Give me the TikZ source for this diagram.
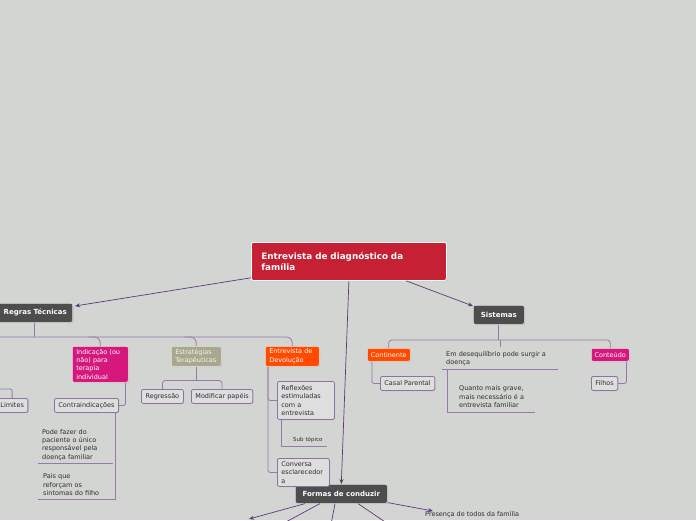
\documentclass[tikz,border=0pt]{standalone}
\usepackage{fontspec}
\setmainfont{DejaVu Sans}
\usetikzlibrary{arrows.meta, positioning, shadows}
\definecolor{bgcol}{RGB}{211,213,210}
\definecolor{rootred}{RGB}{197,32,51}
\definecolor{darkbox}{RGB}{77,77,77}
\definecolor{magentabox}{RGB}{214,24,125}
\definecolor{orangebox}{RGB}{255,74,0}
\definecolor{olivebox}{RGB}{168,168,140}
\definecolor{leaffill}{RGB}{222,222,222}
\definecolor{leafline}{RGB}{140,115,160}
\definecolor{branchcol}{RGB}{150,120,170}
\definecolor{arrowcol}{RGB}{95,55,125}
\definecolor{textcol}{RGB}{45,45,45}

\begin{document}
\begin{tikzpicture}[x=1pt, y=-1pt,
  every node/.style={font=\fontsize{6.5}{8.3}\selectfont, inner sep=0pt},
  base/.style={anchor=north west, rounded corners=2pt, drop shadow={opacity=0.25, shadow xshift=0.8pt, shadow yshift=-0.8pt}},
  main/.style={base, fill=rootred, draw=white, line width=0.8pt, text=white, align=left, inner xsep=10pt, font=\bfseries\fontsize{8.8}{11}\selectfont},
  dark/.style={base, fill=darkbox, draw=white!85!black, line width=0.6pt, text=white, font=\bfseries\fontsize{7}{8}\selectfont},
  tag/.style={base, draw=white!90!black, line width=0.5pt, text=white, align=left, inner xsep=4pt},
  leaf/.style={base, fill=leaffill, draw=leafline, line width=0.8pt, text=textcol, align=left, inner xsep=4pt},
  topic/.style={anchor=north west, align=left, text=textcol},
  arrow/.style={draw=arrowcol, line width=0.7pt, -{Stealth[length=5pt, width=4pt]}},
  branch/.style={draw=branchcol, line width=0.8pt}]
  \fill[bgcol] (0,0) rectangle (696,520);
  \useasboundingbox (0,0) rectangle (696,520);

  \node[main, text width=175pt, minimum height=38pt] (root) at (251,242) {Entrevista de diagnóstico da\\família};
  \node[dark, anchor=north east, text width=72pt, align=right, inner xsep=6pt, minimum height=19pt] (regras) at (73,303) {Regras Técnicas};
  \node[dark, minimum width=51pt, minimum height=19pt] (sist) at (473,305) {Sistemas};
  \node[dark, minimum width=92pt, minimum height=19pt] (formas) at (295,484) {Formas de conduzir};

  \node[tag, fill=magentabox, text width=48pt, minimum height=36pt] (indic) at (72,346) {Indicação (ou\\não) para\\terapia\\individual};
  \node[tag, fill=olivebox, text=white!88!olivebox, text width=42pt, minimum height=20pt] (estr) at (171,346) {Estratégias\\Terapêuticas};
  \node[tag, fill=orangebox, text width=46pt, minimum height=20pt] (devol) at (265,346) {Entrevista de\\Devolução};
  \node[tag, fill=orangebox, inner xsep=3pt, text width=37pt, align=center, minimum height=13pt] (contin) at (367,348) {Continente};
  \node[tag, fill=magentabox, inner xsep=3pt, text width=32pt, align=center, minimum height=13pt] (conteudo) at (591,348) {Conteúdo};

  \node[leaf, minimum width=30pt, minimum height=14pt] (limites) at (-4,398) {Limites};
  \node[leaf, minimum width=63pt, minimum height=14pt] (contra) at (54,398) {Contraindicações};
  \node[leaf, minimum width=42pt, minimum height=14pt] (regr) at (141,389) {Regressão};
  \node[leaf, minimum width=61pt, minimum height=14pt] (modif) at (191,389) {Modificar papéis};
  \node[leaf, text width=49pt, minimum height=38pt] (reflex) at (277,381) {Reflexões\\estimuladas\\com a\\entrevista};
  \node[leaf, text width=44pt, minimum height=28pt] (conversa) at (277,458) {Conversa\\esclarecedor\\a};
  \node[leaf, minimum width=54pt, minimum height=14pt] (casal) at (380,376) {Casal Parental};
  \node[leaf, minimum width=26pt, minimum height=14pt] (filhos) at (591,376) {Filhos};

  \node[topic, inner xsep=4pt, text width=67pt, minimum height=37pt] (pode) at (38,426) {Pode fazer do\\paciente o único\\responsável pela\\doença familiar};
  \node[topic, inner xsep=5pt, text width=65pt, minimum height=29pt] (pais) at (38,470) {Pais que\\reforçam os\\sintomas do filho};
  \node[topic, inner xsep=4pt, text width=108pt, minimum height=22pt] (emdes) at (442,347) {Em desequilíbrio pode surgir a\\doença};
  \node[topic, inner xsep=12pt, text width=90pt, minimum height=31pt] (quanto) at (447,381) {Quanto mais grave,\\mais necessário é a\\entrevista familiar};
  \node[topic, inner xsep=12pt, text width=40pt, minimum height=12pt, font=\fontsize{5.5}{6}\selectfont] (sub) at (281,434) {Sub tópico};
  \node[topic] (pres) at (425,511) {Presença de todos da família};

  \draw[arrow] ([yshift=3pt]root.south west) -- ([shift={(2pt,-3pt)}]regras.north east);
  \draw[arrow] (root.south) -- (formas.north);
  \draw[arrow] ([xshift=155pt]root.south west) -- ([yshift=-1pt]sist.north west);

  \coordinate (f1) at (249,519);
  \coordinate (f2) at (271,530);
  \coordinate (f3) at (330,530);
  \coordinate (f4) at (397,530);
  \draw[arrow] ([xshift=10pt]formas.south west) -- (f1);
  \draw[arrow] ([xshift=25pt]formas.south west) -- (f2);
  \draw[arrow] ([xshift=40pt]formas.south west) -- (f3);
  \draw[arrow] ([xshift=63pt]formas.south west) -- (f4);
  \draw[arrow] ([yshift=1pt]formas.south east) -- ([xshift=8pt]pres.north west);

  \coordinate (rbus) at (-10,337);
  \coordinate (ib) at (indic.north |- rbus);
  \coordinate (eb) at (estr.north |- rbus);
  \draw[branch] ([xshift=-39pt]regras.south east) -- ([xshift=-39pt]regras.south east |- rbus);
  \draw[branch, rounded corners=6pt] (rbus) -| (devol.north);
  \draw[branch, rounded corners=6pt] ([xshift=-12pt]ib) -| (indic.north);
  \draw[branch, rounded corners=6pt] ([xshift=-12pt]eb) -| (estr.north);

  \coordinate (lfrom) at (-10,389);
  \draw[branch, rounded corners=2pt] (lfrom) -| (limites.north);

  \draw[branch, rounded corners=2pt] ([xshift=-3pt]indic.south east) |- (contra.east);
  \draw[branch] ([xshift=-4pt]contra.south east) |- (pais.south east);
  \draw[branch] (pode.south west) -- (pode.south east);
  \draw[branch] (pais.south west) -- (pais.south east);

  \coordinate (ebus) at ([yshift=-14pt]estr.south);
  \draw[branch] (estr.south) -- (ebus);
  \draw[branch, rounded corners=3pt] (regr.north) |- (ebus) -| (modif.north);

  \draw[branch, rounded corners=2pt] ([xshift=3pt]devol.south west) |- (reflex.west);
  \draw[branch, rounded corners=2pt] ([xshift=3pt]devol.south west) |- (conversa.west);
  \draw[branch] ([xshift=4pt]reflex.south west) |- ([xshift=46pt]sub.south west);

  \coordinate (sbus) at (0,340);
  \draw[branch] (sist.south) -- (sist.south |- sbus);
  \draw[branch, rounded corners=3pt] (contin.north) |- (conteudo.north |- sbus) -- (conteudo.north);
  \draw[branch] (emdes.north |- sbus) -- (emdes.north);
  \draw[branch] (emdes.south west) -- (emdes.south east);
  \draw[branch] (quanto.south west |- emdes.south) |- ([xshift=88pt]quanto.south west);
  \draw[branch, rounded corners=2pt] ([xshift=5pt]contin.south west) |- (casal.west);
  \draw[branch, rounded corners=2pt] ([xshift=-3pt]conteudo.south east) |- (filhos.east);
\end{tikzpicture}
\end{document}
